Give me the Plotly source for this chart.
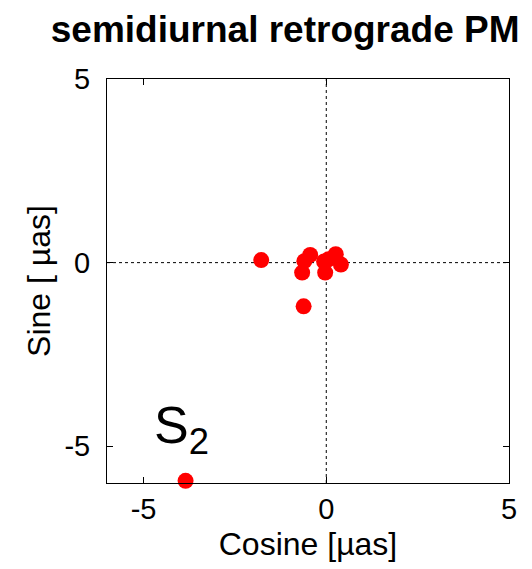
import plotly.graph_objects as go

cos_vals = [-1.78, -0.44, -0.60, -0.66, -0.62, -0.03, 0.06, 0.26, 0.40, -0.06, -3.85]
sin_vals = [0.07, 0.21, 0.04, -0.27, -1.19, -0.27, 0.09, 0.23, -0.05, 0.03, -5.94]
ticks = [-5, 0, 5]
tick_labels = ["-5", "0", "5"]

FONT = "Liberation Sans, Arial"

fig = go.Figure()
fig.add_trace(go.Scatter(x=cos_vals, y=sin_vals, mode="markers",
                         marker=dict(color="#ff0000", size=16, line=dict(width=0)),
                         showlegend=False, cliponaxis=False))

fig.add_shape(type="line", x0=0, x1=0, y0=-6, y1=5, xref="x", yref="y",
              line=dict(color="black", width=1, dash="dot"), layer="below")
fig.add_shape(type="line", x0=-6, x1=5, y0=0, y1=0, xref="x", yref="y",
              line=dict(color="black", width=1, dash="dot"), layer="below")

fig.add_annotation(x=-3.85, y=-5.94, xref="x", yref="y", text="S<sub>2</sub>",
                   showarrow=False, yshift=52, xshift=-4,
                   font=dict(family=FONT, size=52, color="black"))

axis_common = dict(tickvals=ticks, ticktext=tick_labels, ticks="inside", ticklen=6,
                   tickcolor="black", showline=True, linecolor="black", linewidth=1,
                   mirror="ticks", showgrid=False, zeroline=False, automargin=False,
                   tickfont=dict(family=FONT, size=29, color="black"))

# page has an 8px body margin; margins compensate so the plot box sits where the reference has it
fig.update_layout(
    width=532, height=569,
    margin=dict(l=99, r=31, t=71, b=94),
    paper_bgcolor="white", plot_bgcolor="white",
    title=dict(text="<b>semidiurnal retrograde PM</b>", x=0.521, xanchor="center",
               y=0.963, yanchor="middle", automargin=False,
               font=dict(family=FONT, size=37, color="black")),
    xaxis=dict(range=[-6, 5], ticklabelstandoff=0,
               title=dict(text="Cosine [µas]", standoff=8,
                          font=dict(family=FONT, size=32, color="black")),
               **axis_common),
    yaxis=dict(range=[-6, 5], ticklabelstandoff=10,
               title=dict(text="Sine [ µas]", standoff=4,
                          font=dict(family=FONT, size=32, color="black")),
               **axis_common),
)

fig.write_html("out.html")
